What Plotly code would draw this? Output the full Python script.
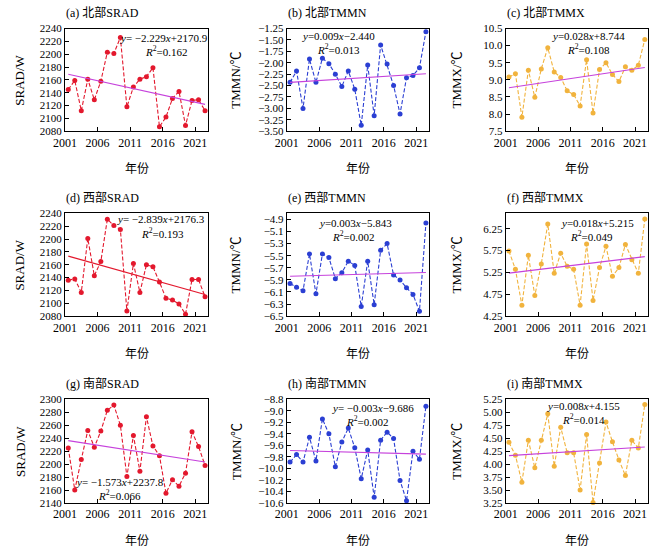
import plotly.graph_objects as go

years = list(range(2001, 2023))

north_srad = [2145, 2159, 2112, 2161, 2129, 2158, 2203, 2201, 2226, 2118, 2149,
              2161, 2165, 2179, 2087, 2102, 2131, 2142, 2089, 2128, 2129, 2112]
north_tmmn = [-2.43, -2.18, -3.00, -1.92, -2.43, -1.90, -2.02, -2.25, -2.52, -2.18, -2.58,
              -3.37, -2.05, -3.16, -1.61, -2.03, -2.50, -3.12, -2.33, -2.28, -2.11, -1.32]
north_tmmx = [9.08, 9.18, 7.91, 9.28, 8.49, 9.32, 9.94, 9.23, 9.07, 8.68, 8.57,
              8.24, 9.59, 8.03, 9.30, 9.50, 9.16, 8.95, 9.38, 9.28, 9.43, 10.18]
west_srad = [2136, 2138, 2117, 2201, 2143, 2165, 2231, 2221, 2215, 2088, 2162,
             2117, 2160, 2157, 2133, 2108, 2105, 2099, 2083, 2137, 2137, 2110]
west_tmmn = [-5.96, -6.02, -6.08, -5.47, -6.13, -5.47, -5.53, -5.88, -5.78, -5.59, -5.66,
             -6.34, -5.59, -6.31, -5.41, -5.30, -5.82, -5.90, -6.03, -6.14, -6.42, -4.96]
west_tmmx = [5.74, 5.32, 4.50, 5.64, 4.72, 5.44, 6.36, 5.23, 5.69, 5.39, 5.32,
             4.50, 5.90, 4.61, 5.36, 5.85, 5.16, 5.36, 5.89, 5.54, 5.23, 6.47]
south_srad = [2225, 2160, 2207, 2252, 2226, 2251, 2283, 2291, 2260, 2181, 2244,
              2189, 2273, 2228, 2213, 2155, 2176, 2166, 2186, 2250, 2227, 2198]
south_tmmn = [-9.89, -9.76, -9.89, -9.46, -9.87, -9.14, -9.40, -9.97, -9.54, -9.30, -9.64,
              -10.18, -9.68, -10.50, -9.51, -9.37, -9.48, -10.21, -10.56, -9.70, -9.84, -8.92]
south_tmmx = [4.42, 4.17, 3.65, 4.46, 3.93, 4.46, 4.97, 3.96, 4.71, 4.22, 4.22,
              3.50, 4.57, 3.26, 4.02, 4.81, 4.43, 4.08, 3.78, 4.46, 4.31, 5.15]

# trend coefficients (slope, intercept, R2) read from the equations
trend_slope = [-2.229, 0.009, 0.028, -2.839, 0.003, 0.018, -1.573, -0.003, 0.008]
trend_icpt = [2170.9, -2.440, 8.744, 2176.3, -5.843, 5.215, 2237.8, -9.686, 4.155]
trend_r2 = ["0.162", "0.013", "0.108", "0.193", "0.002", "0.049", "0.066", "0.002", "0.014"]

panel_titles = ["(a) 北部SRAD", "(b) 北部TMMN", "(c) 北部TMMX",
                "(d) 西部SRAD", "(e) 西部TMMN", "(f) 西部TMMX",
                "(g) 南部SRAD", "(h) 南部TMMN", "(i) 南部TMMX"]
y_titles = ["SRAD/W", "TMMN/℃", "TMMX/℃"]
x_tick_text = ["2001", "2006", "2011", "2016", "2021"]
x_title = "年份"

series = [north_srad, north_tmmn, north_tmmx,
          west_srad, west_tmmn, west_tmmx,
          south_srad, south_tmmn, south_tmmx]

W, H = 650, 554
FONT = "Liberation Serif, Times New Roman, Noto Sans CJK SC, serif"
RED = "#e3182d"
BLUE = "#2b3fd3"
ORANGE = "#f1b33d"
VIOLET = "#c642dc"

def fx(p):
    return p / W

def fy(p):
    return 1 - p / H

cols = [(54, 200), (280, 425), (503, 648)]
rows = [(23, 128), (212, 317), (402, 508)]

# per-panel style: colour, trend colour, y-range, tick0, dtick, format
styles = [
    (RED, VIOLET, [2080, 2240], 2080, 20, "d"),
    (BLUE, VIOLET, [-3.5, -1.25], -3.5, 0.25, ".2f"),
    (ORANGE, VIOLET, [7.5, 10.5], 7.5, 0.5, ".1f"),
    (RED, RED, [2080, 2240], 2080, 20, "d"),
    (BLUE, VIOLET, [-6.5, -4.8], -6.5, 0.2, ".1f"),
    (ORANGE, VIOLET, [4.25, 6.6], 4.25, 0.5, ".2f"),
    (RED, VIOLET, [2140, 2300], 2140, 20, "d"),
    (BLUE, VIOLET, [-10.6, -8.8], -10.6, 0.2, ".1f"),
    (ORANGE, VIOLET, [3.25, 5.25], 3.25, 0.25, ".2f"),
]
# equation label positions (pixel centres): eq (x,y), r2 (x,y)
eq_pos = [
    ((155, 33), (157, 46)),
    ((333, 31), (333, 44)),
    ((587, 31), (587, 44)),
    ((152, 218), (153, 232)),
    ((350, 222), (348, 235)),
    ((597, 222), (590, 235)),
    ((110, 487), (110, 500)),
    ((368, 411), (362, 424)),
    ((582, 409), (582, 422)),
]

fig = go.Figure()
annotations = []
idx = list(range(1, len(years) + 1))

for k in range(9):
    r, c = divmod(k, 3)
    color, tcolor, yr, t0, dt, fmt = styles[k]
    n = k + 1
    xa = "x" if n == 1 else f"x{n}"
    ya = "y" if n == 1 else f"y{n}"
    fig.add_trace(go.Scatter(
        x=years, y=series[k], mode="lines+markers", xaxis=xa, yaxis=ya,
        line=dict(color=color, width=1.1, dash="4px,2px"),
        marker=dict(color=color, size=5), showlegend=False, cliponaxis=False))
    trend = [trend_slope[k] * i + trend_icpt[k] for i in idx]
    fig.add_trace(go.Scatter(
        x=years, y=trend, mode="lines", xaxis=xa, yaxis=ya,
        line=dict(color=tcolor, width=1.1), showlegend=False))
    x0, x1 = cols[c]
    top, bot = rows[r]
    xkey = "xaxis" if n == 1 else f"xaxis{n}"
    ykey = "yaxis" if n == 1 else f"yaxis{n}"
    fig.update_layout(**{
        xkey: dict(domain=[fx(x0), fx(x1)], anchor=ya, range=[2000.5, 2022.5],
                   tickvals=[2000.5, 2005.5, 2010.5, 2015.5, 2020.5],
                   ticktext=x_tick_text, ticks="inside", ticklen=4,
                   tickcolor="black", showline=True, linecolor="black",
                   linewidth=1, mirror=True, showgrid=False, zeroline=False,
                   tickfont=dict(family=FONT, size=12, color="black")),
        ykey: dict(domain=[fy(bot), fy(top)], anchor=xa, range=yr,
                   tick0=t0, dtick=dt, tickformat=fmt, ticks="inside",
                   ticklen=4, tickcolor="black", showline=True,
                   linecolor="black", linewidth=1, mirror=True,
                   showgrid=False, zeroline=False,
                   tickfont=dict(family=FONT, size=11, color="black")),
    })
    # panel title
    annotations.append(dict(text=panel_titles[k], x=fx(x0 - 1), y=fy(top - 16),
                            xref="paper", yref="paper", xanchor="left",
                            yanchor="middle", showarrow=False,
                            font=dict(family=FONT, size=12, color="black")))
    # y title
    ytx = [8, 228, 453][c]
    annotations.append(dict(text=y_titles[c], x=fx(ytx), y=fy((top + bot) / 2),
                            xref="paper", yref="paper", textangle=-90,
                            xanchor="center", yanchor="middle", showarrow=False,
                            font=dict(family=FONT, size=13, color="black")))
    # x title
    annotations.append(dict(text=x_title, x=fx((x0 + x1) / 2), y=fy(bot + 39),
                            xref="paper", yref="paper", xanchor="center",
                            yanchor="middle", showarrow=False,
                            font=dict(family=FONT, size=12, color="black")))
    # equation
    s = trend_slope[k]
    b = trend_icpt[k]
    sgn_b = "+" if b >= 0 else "−"
    nd = 1 if abs(b) > 100 else 3
    if s < 0:
        eq = f"<i>y</i>= −{abs(s):.3f}<i>x</i>{sgn_b}{abs(b):.{nd}f}"
    else:
        eq = f"<i>y</i>={s:.3f}<i>x</i>{sgn_b}{abs(b):.{nd}f}"
    (ex, ey), (rx, ry) = eq_pos[k]
    annotations.append(dict(text=eq, x=fx(ex), y=fy(ey), xref="paper", yref="paper",
                            xanchor="center", yanchor="middle", showarrow=False,
                            font=dict(family=FONT, size=11, color="black")))
    annotations.append(dict(text=f"<i>R</i><sup>2</sup>={trend_r2[k]}", x=fx(rx), y=fy(ry),
                            xref="paper", yref="paper", xanchor="center",
                            yanchor="middle", showarrow=False,
                            font=dict(family=FONT, size=11, color="black")))

fig.update_layout(width=W, height=H, margin=dict(l=0, r=0, t=0, b=0),
                  paper_bgcolor="white", plot_bgcolor="white",
                  annotations=annotations, font=dict(family=FONT, color="black"))
fig.write_html("out.html", config={"displayModeBar": False},
               post_script="document.body.style.margin='0';document.body.style.overflow='hidden';")
